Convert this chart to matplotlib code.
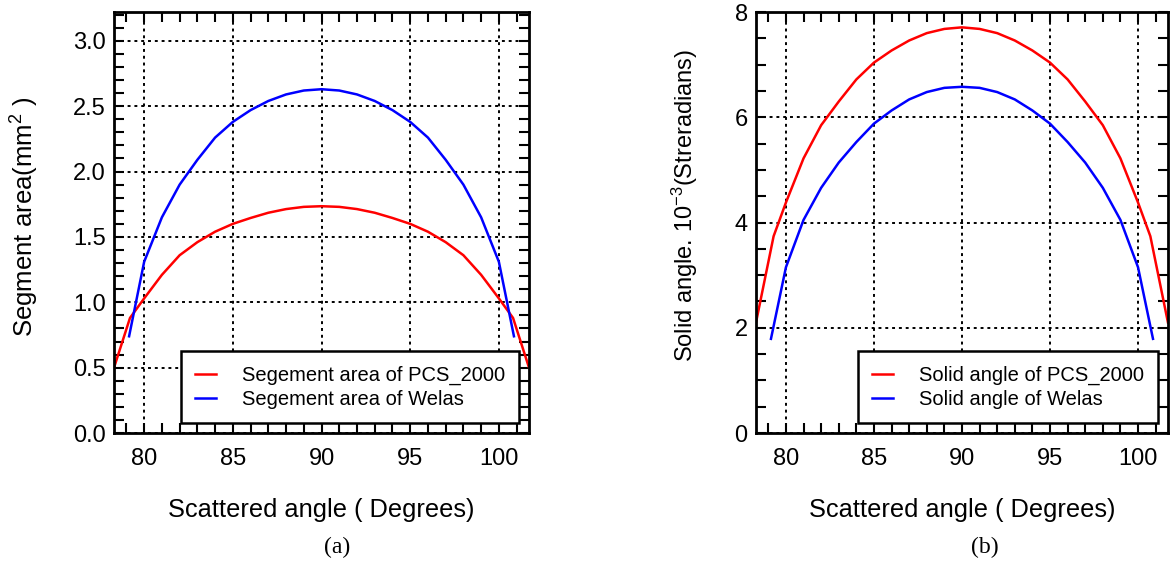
import matplotlib
matplotlib.use("Agg")
import matplotlib.pyplot as plt
from matplotlib.ticker import MultipleLocator, FormatStrFormatter

plt.rcParams['font.family'] = ['Liberation Sans', 'DejaVu Sans']
plt.rcParams['mathtext.fontset'] = 'custom'
plt.rcParams['mathtext.rm'] = 'Liberation Sans'
plt.rcParams['mathtext.it'] = 'Liberation Sans:italic'

# (a) segment area, mm^2
angle_pcs_a = [78.3, 79.2, 80, 81, 82, 83, 84, 85, 86, 87, 88, 89, 90,
               91, 92, 93, 94, 95, 96, 97, 98, 99, 100, 100.8, 101.7]
area_pcs = [0.50, 0.88, 1.03, 1.21, 1.36, 1.46, 1.54, 1.60, 1.645, 1.685, 1.713, 1.730, 1.735,
            1.730, 1.713, 1.685, 1.645, 1.60, 1.54, 1.46, 1.36, 1.21, 1.03, 0.88, 0.50]
angle_welas_a = [79.15, 80, 81, 82, 83, 84, 85, 86, 87, 88, 89, 90,
                 91, 92, 93, 94, 95, 96, 97, 98, 99, 100, 100.85]
area_welas = [0.74, 1.31, 1.65, 1.90, 2.09, 2.26, 2.38, 2.47, 2.54, 2.59, 2.62, 2.63,
              2.62, 2.59, 2.54, 2.47, 2.38, 2.26, 2.09, 1.90, 1.65, 1.31, 0.74]

# (b) solid angle, 1e-3 sr
angle_pcs_b = [78.3, 79.3, 80, 81, 82, 83, 84, 85, 86, 87, 88, 89, 90,
               91, 92, 93, 94, 95, 96, 97, 98, 99, 100, 100.7, 101.7]
solid_pcs = [2.10, 3.74, 4.38, 5.22, 5.85, 6.30, 6.72, 7.04, 7.27, 7.46, 7.60, 7.68, 7.71,
             7.68, 7.60, 7.46, 7.27, 7.04, 6.72, 6.30, 5.85, 5.22, 4.38, 3.74, 2.10]
angle_welas_b = [79.15, 80, 81, 82, 83, 84, 85, 86, 87, 88, 89, 90,
                 91, 92, 93, 94, 95, 96, 97, 98, 99, 100, 100.85]
solid_welas = [1.79, 3.15, 4.05, 4.66, 5.14, 5.53, 5.88, 6.13, 6.34, 6.48, 6.56, 6.58,
               6.56, 6.48, 6.34, 6.13, 5.88, 5.53, 5.14, 4.66, 4.05, 3.15, 1.79]

x_ticks = [80, 85, 90, 95, 100]


def style_axes(ax, ymajor, yminor):
    ax.set_xlim(78.3, 101.7)
    ax.set_xticks(x_ticks)
    ax.xaxis.set_minor_locator(MultipleLocator(1))
    ax.yaxis.set_major_locator(MultipleLocator(ymajor))
    ax.yaxis.set_minor_locator(MultipleLocator(yminor))
    ax.tick_params(which='both', direction='in', top=True, right=True,
                   width=1.5, labelsize=17)
    ax.tick_params(which='major', length=7)
    ax.tick_params(axis='x', which='major', pad=11)
    ax.tick_params(axis='y', which='major', pad=6)
    ax.tick_params(which='minor', length=7)
    ax.grid(True, which='major', color='black', linestyle=(0, (1.5, 2)), linewidth=1.4)
    for s in ax.spines.values():
        s.set_linewidth(2)
    ax.set_xlabel("Scattered angle ( Degrees)", fontsize=18.3, labelpad=20)


fig = plt.figure(figsize=(11.73, 5.62), dpi=100)
ax1 = fig.add_axes([0.0972, 0.2295, 0.3538, 0.749])
ax2 = fig.add_axes([0.6445, 0.2295, 0.3512, 0.749])

ax1.plot(angle_pcs_a, area_pcs, color='red', linewidth=1.8, label="Segement area of PCS_2000")
ax1.plot(angle_welas_a, area_welas, color='blue', linewidth=1.8, label="Segement area of Welas")
style_axes(ax1, 0.5, 0.1)
ax1.set_ylim(0, 3.22)
ax1.yaxis.set_major_formatter(FormatStrFormatter('%.1f'))
ax1.set_ylabel("Segment area(mm$^2$ )", fontsize=18.5)
ax1.yaxis.set_label_coords(-0.175, 0.514)

ax2.plot(angle_pcs_b, solid_pcs, color='red', linewidth=1.8, label="Solid angle of PCS_2000")
ax2.plot(angle_welas_b, solid_welas, color='blue', linewidth=1.8, label="Solid angle of Welas")
style_axes(ax2, 2, 0.5)
ax2.set_ylim(0, 8)
ax2.set_ylabel("Solid angle. 10$^{-3}$(Streradians)", fontsize=17)
ax2.yaxis.set_label_coords(-0.135, 0.54)

for ax in (ax1, ax2):
    leg = ax.legend(loc='lower right', fontsize=14.5, handlelength=1.0,
                    fancybox=False, framealpha=1, edgecolor='black',
                    borderaxespad=0.5, borderpad=0.7, labelspacing=0.25,
                    handletextpad=1.3)
    leg.get_frame().set_linewidth(1.8)

fig.text(337 / 1173, 1 - 547 / 562, "(a)", fontsize=17, family='Liberation Serif',
         ha='center', va='center')
fig.text(985 / 1173, 1 - 547 / 562, "(b)", fontsize=17, family='Liberation Serif',
         ha='center', va='center')

fig.savefig("out.png", dpi=100)
